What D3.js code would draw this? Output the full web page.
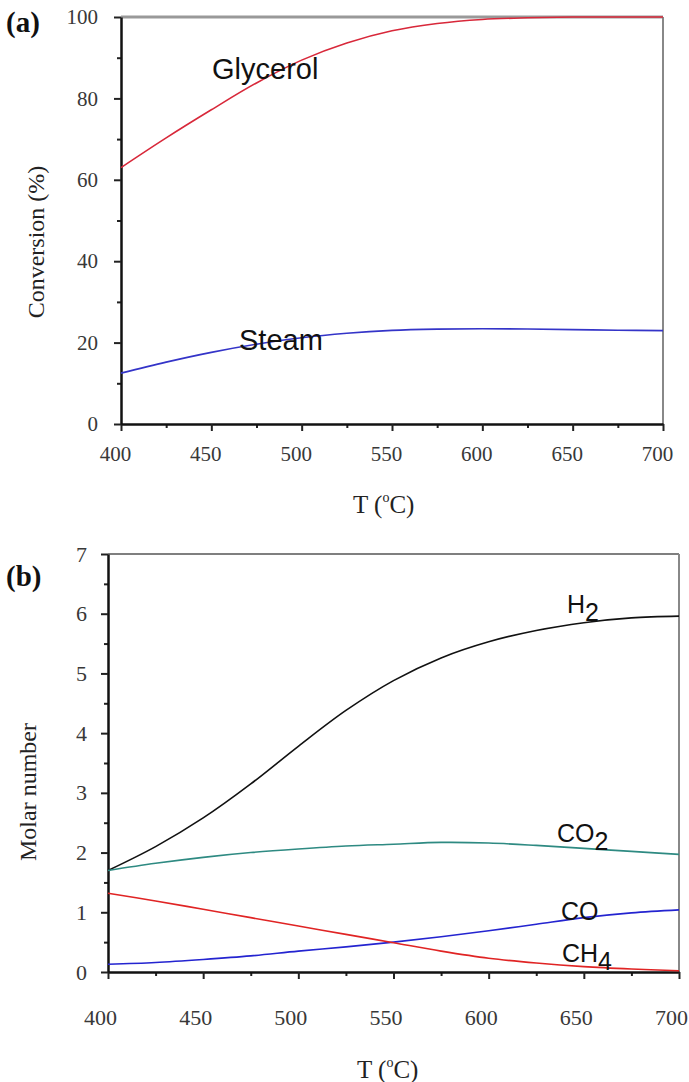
<!DOCTYPE html>
<html>
<head>
<meta charset="utf-8">
<script src="https://cdn.jsdelivr.net/npm/d3@7"></script>
<style>
  body { margin: 0; background: #fff; }
  svg { display: block; }
  .tick text { fill: #383838; }
</style>
</head>
<body>
<div id="chart"></div>
<script>
// temperature grid (deg C)
var temps = [400, 425, 450, 475, 500, 525, 550, 575, 600, 625, 650, 675, 700];

// panel (a) conversion (%)
var glycerol = [63, 70.3, 77.2, 83.8, 89.4, 93.6, 96.6, 98.4, 99.4, 99.8, 100, 100, 100];
var steam = [12.5, 15.2, 17.6, 19.6, 21.2, 22.3, 23.0, 23.3, 23.4, 23.35, 23.2, 23.05, 22.95];

// panel (b) molar number
var h2 = [1.70, 2.10, 2.58, 3.15, 3.78, 4.38, 4.88, 5.26, 5.53, 5.72, 5.85, 5.93, 5.96];
var co2 = [1.70, 1.82, 1.92, 2.00, 2.06, 2.11, 2.14, 2.17, 2.16, 2.12, 2.07, 2.02, 1.97];
var co = [0.13, 0.16, 0.21, 0.27, 0.35, 0.42, 0.50, 0.59, 0.69, 0.80, 0.91, 0.99, 1.04];
var ch4 = [1.32, 1.19, 1.05, 0.91, 0.77, 0.63, 0.49, 0.35, 0.23, 0.15, 0.09, 0.05, 0.02];

var tempTicks = [400, 450, 500, 550, 600, 650, 700];
var tempMinor = [425, 475, 525, 575, 625, 675];
var convTicks = [0, 20, 40, 60, 80, 100];
var convMinor = [10, 30, 50, 70, 90];
var molarTicks = [0, 1, 2, 3, 4, 5, 6, 7];
var molarMinor = [0.5, 1.5, 2.5, 3.5, 4.5, 5.5, 6.5];

var width = 689, height = 1082;
var serif = "'Liberation Serif', 'Times New Roman', serif";
var sans = "'Liberation Sans', Arial, sans-serif";

var svg = d3.select("#chart").append("svg")
    .attr("width", width)
    .attr("height", height);

function panel(opts) {
    var x = d3.scaleLinear().domain([400, 700]).range(opts.xr);
    var y = d3.scaleLinear().domain(opts.yd).range(opts.yr);
    var g = svg.append("g");

    // frame (top and right in grey)
    g.append("line")
        .attr("x1", x(400)).attr("x2", x(700))
        .attr("y1", y(opts.yd[1])).attr("y2", y(opts.yd[1]))
        .attr("stroke", opts.frameTop).attr("stroke-width", opts.frameW);
    g.append("line")
        .attr("x1", x(700)).attr("x2", x(700))
        .attr("y1", y(opts.yd[0])).attr("y2", y(opts.yd[1]))
        .attr("stroke", "#888").attr("stroke-width", 2);

    // minor ticks
    g.append("g")
        .attr("transform", "translate(0," + y(opts.yd[0]) + ")")
        .call(d3.axisBottom(x).tickValues(tempMinor).tickSize(4).tickFormat(""))
        .call(a => a.select(".domain").remove())
        .selectAll("line").attr("stroke", "#222").attr("stroke-width", 2);
    g.append("g")
        .attr("transform", "translate(" + x(400) + ",0)")
        .call(d3.axisLeft(y).tickValues(opts.minor).tickSize(4).tickFormat(""))
        .call(a => a.select(".domain").remove())
        .selectAll("line").attr("stroke", "#222").attr("stroke-width", 2);

    // major axes
    var xa = g.append("g")
        .attr("transform", "translate(0," + y(opts.yd[0]) + ")")
        .call(d3.axisBottom(x).tickValues(tempTicks).tickFormat(d3.format("d"))
            .tickSize(7).tickSizeOuter(0).tickPadding(opts.xPad));
    var ya = g.append("g")
        .attr("transform", "translate(" + x(400) + ",0)")
        .call(d3.axisLeft(y).tickValues(opts.ticks).tickFormat(d3.format("d"))
            .tickSize(7).tickSizeOuter(0).tickPadding(opts.yPad));

    [xa, ya].forEach(a => {
        a.select(".domain").attr("stroke", "#111").attr("stroke-width", 2.5);
        a.selectAll(".tick line").attr("stroke", "#222").attr("stroke-width", 2);
        a.selectAll(".tick text")
            .style("font-family", serif)
            .style("font-size", opts.tickFont + "px");
    });
    xa.selectAll(".tick text").attr("dx", opts.xdx);

    // curves
    var line = d3.line()
        .x((d, i) => x(temps[i]))
        .y(d => y(d))
        .curve(d3.curveCatmullRom);

    opts.series.forEach(s => {
        g.append("path")
            .datum(s.values)
            .attr("d", line)
            .attr("fill", "none")
            .attr("stroke", s.color)
            .attr("stroke-width", 1.6);
    });

    // curve labels
    opts.labels.forEach(l => {
        var t = g.append("text")
            .attr("x", l.x).attr("y", l.y)
            .style("font-family", sans)
            .style("font-size", l.size + "px")
            .attr("fill", "#111");
        t.append("tspan").text(l.text);
        if (l.sub) {
            t.append("tspan").attr("dy", l.size * 0.32).text(l.sub);
        }
    });

    // axis titles
    g.append("text")
        .attr("transform", "translate(" + opts.yTitle[0] + "," + opts.yTitle[1] + ") rotate(-90)")
        .attr("text-anchor", "middle")
        .style("font-family", serif)
        .style("font-size", "24px")
        .attr("fill", "#222")
        .text(opts.yLabel);

    var xt = g.append("text")
        .attr("x", opts.xTitle[0]).attr("y", opts.xTitle[1])
        .style("font-family", serif)
        .style("font-size", "25px")
        .attr("fill", "#222");
    xt.append("tspan").text("T (");
    xt.append("tspan").attr("dy", -11).style("font-size", "14px").text("o");
    xt.append("tspan").attr("dy", 11).text("C)");

    // panel letter
    svg.append("text")
        .attr("x", 6).attr("y", opts.letterY)
        .style("font-family", serif)
        .style("font-size", "29px")
        .style("font-weight", "bold")
        .attr("fill", "#111")
        .text(opts.letter);
}

panel({
    xr: [121, 663], yd: [0, 100], yr: [424, 17],
    ticks: convTicks, minor: convMinor,
    frameTop: "#999", frameW: 3,
    xPad: 15, yPad: 16, xdx: -6, tickFont: 21,
    series: [
        { values: glycerol, color: "#d8283a" },
        { values: steam, color: "#3434c8" }
    ],
    labels: [
        { text: "Glycerol", x: 212, y: 79, size: 29 },
        { text: "Steam", x: 239, y: 350, size: 29 }
    ],
    yLabel: "Conversion (%)", yTitle: [44, 242],
    xTitle: [353, 513],
    letter: "(a)", letterY: 32
});

panel({
    xr: [108, 679], yd: [0, 7], yr: [972, 554],
    ticks: molarTicks, minor: molarMinor,
    frameTop: "#555", frameW: 1.5,
    xPad: 30, yPad: 14, xdx: -8, tickFont: 22,
    series: [
        { values: h2, color: "#111111" },
        { values: co2, color: "#2e8a82" },
        { values: co, color: "#2424d0" },
        { values: ch4, color: "#e02424" }
    ],
    labels: [
        { text: "H", sub: "2", x: 567, y: 613, size: 25 },
        { text: "CO", sub: "2", x: 557, y: 842, size: 25 },
        { text: "CO", x: 561, y: 920, size: 25 },
        { text: "CH", sub: "4", x: 562, y: 962, size: 25 }
    ],
    yLabel: "Molar number", yTitle: [36, 792],
    xTitle: [357, 1078],
    letter: "(b)", letterY: 586
});
</script>
</body>
</html>
